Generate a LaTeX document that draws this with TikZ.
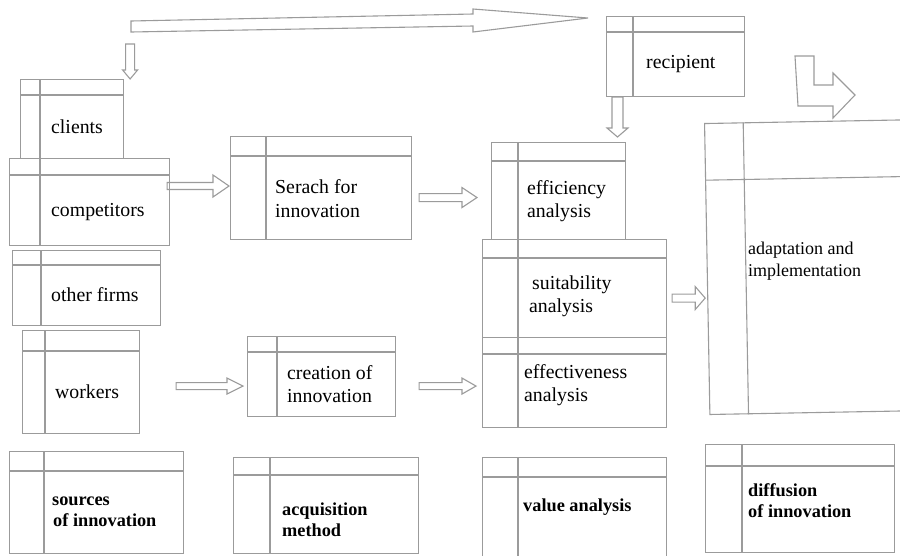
\documentclass[tikz,border=0pt]{standalone}
\usepackage{fontspec}
\setmainfont{Liberation Serif}
\usetikzlibrary{calc}
\definecolor{framegray}{HTML}{9B9B9B}
\tikzset{
  tbl/.style = {draw=framegray, line width=1.1pt, rectangle, anchor=north west, inner sep=0pt},
  rule/.style = {draw=framegray, line width=1.1pt},
  arr/.style = {draw=framegray, line width=1.1pt},
  txt/.style = {anchor=west, align=left, inner sep=0pt, font=\fontsize{19.8}{23.5}\selectfont},
  txts/.style = {txt, font=\fontsize{18}{22}\selectfont},
  txtb/.style = {txt, font=\fontsize{18.3}{21}\selectfont\bfseries}
}
% box with header row and left column
\newcommand{\tblbox}[7]{% name, x, y, width, height, header, column
  \node[tbl, minimum width=#4pt, minimum height=#5pt] (#1) at (#2,#3) {};
  \draw[rule] ([yshift=-#6pt]#1.north west) -- ([yshift=-#6pt]#1.north east);
  \draw[rule] ([xshift=#7pt]#1.north west) -- ([xshift=#7pt]#1.south west);}
% hollow block arrows
\newcommand{\rarrow}[5]{% from, tip, shaft half, head half, head length
  \draw[arr] let \p1 = #1, \p2 = #2 in
    (\x1,{\y1+#3}) -- ({\x2-#5},{\y1+#3}) -- ({\x2-#5},{\y1+#4}) -- (\x2,\y1)
    -- ({\x2-#5},{\y1-#4}) -- ({\x2-#5},{\y1-#3}) -- (\x1,{\y1-#3}) -- cycle;}
\newcommand{\darrow}[5]{%
  \draw[arr] let \p1 = #1, \p2 = #2 in
    ({\x1-#3},\y1) -- ({\x1-#3},{\y2+#5}) -- ({\x1-#4},{\y2+#5}) -- (\x1,\y2)
    -- ({\x1+#4},{\y2+#5}) -- ({\x1+#3},{\y2+#5}) -- ({\x1+#3},\y1) -- cycle;}
\begin{document}
\begin{tikzpicture}[x=1pt,y=-1pt]
\useasboundingbox (0,0) rectangle (900,555);
\clip (0,0) rectangle (900,555);

% sources
\tblbox{clients}{20}{79}{103}{79}{16}{20}
\tblbox{comp}{9}{158}{160}{87}{17}{31}
\tblbox{firms}{12}{250}{148}{75}{15}{29}
\tblbox{workers}{22}{330}{117}{103}{21}{23}
% acquisition
\tblbox{search}{230}{136}{181}{103}{20}{36}
\tblbox{creation}{247}{336}{148}{80}{16}{30}
% value analysis
\tblbox{recipient}{606}{16}{138}{80}{16}{27}
\tblbox{effic}{491}{142}{134}{97}{19}{27}
\tblbox{suit}{482}{239}{184}{98}{19}{36}
\tblbox{effect}{482}{337}{184}{90}{17}{36}
% legend row
\tblbox{sources}{9}{451}{174}{102}{20}{35}
\tblbox{acq}{233}{457}{185}{96}{18}{37}
\tblbox{value}{482}{457}{184}{102}{20}{36}
\tblbox{diff}{705}{444}{189}{108}{22}{37}

% diffusion, slightly tilted
\node[tbl, rotate=1.05, minimum width=230pt, minimum height=291pt] (adapt) at (704,123) {};
\draw[rule] ($(adapt.north west)!57/291!(adapt.south west)$) -- ($(adapt.north east)!57/291!(adapt.south east)$);
\draw[rule] ($(adapt.north west)!39/230!(adapt.north east)$) -- ($(adapt.south west)!39/230!(adapt.south east)$);
\coordinate (adapt-w) at ($(adapt.north west)!174/291!(adapt.south west)$);

% texts
\node[txt] (clients-t) at (51,126.5) {clients};
\node[txt] (comp-t) at (51,212) {competitors};
\node[txt] (firms-t) at (51,295) {other firms};
\node[txt] (workers-t) at (55,391.5) {workers};
\node[txt] (search-t) at (275,198.5) {Serach for\\innovation};
\node[txt] (creation-t) at (287,384) {creation of\\innovation};
\node[txt] (recipient-t) at (646,64.5) {recipient};
\node[txt] (effic-t) at (527,201) {efficiency\\analysis};
\node[txt] (suit-t) at (529,296.5) {\hspace{3pt}suitability\\analysis};
\node[txt] (effect-t) at (524,385) {effectiveness\\analysis};
\node[txts] (adapt-t) at (748,261.5) {adaptation and\\implementation};
\node[txtb] (sources-t) at (52,511.5) {sources\\\hspace{1pt}of innovation};
\node[txtb] (acq-t) at (282,519.5) {acquisition\\method};
\node[txtb] (value-t) at (523,507) {value analysis};
\node[txtb] (diff-t) at (748,500.5) {diffusion\\of innovation};

% arrows
\draw[arr] (131,21) -- (473,14) -- (473,9) -- (588,18) -- (473,32) -- (473,26) -- (131,32) -- cycle;
\draw[arr] (795,56) -- (814,56) -- (814,85) -- (833,85) -- (833,73) -- (855,95)
  -- (833,118) -- (833,106) -- (798,106) -- cycle;
\darrow{($(clients.north east)+(6,-35)$)}{(clients.north)}{4.5pt}{7.5pt}{9pt}
\darrow{($(recipient.south west)+(11.5,0)$)}{([yshift=5pt]effic.north)}{5.5pt}{10.5pt}{9pt}
\rarrow{($(comp.north east)+(-3,28)$)}{([xshift=-1pt]search.west)}{3.5pt}{11pt}{16pt}
\rarrow{($(search.east)+(7,9.5)$)}{([xshift=-14pt]effic.west)}{4pt}{10pt}{15pt}
\rarrow{($(workers.east)+(36,4)$)}{([xshift=-4pt]creation.west)}{3.5pt}{8pt}{16pt}
\rarrow{($(creation.east)+(23,9.5)$)}{([xshift=-6pt]effect.west)}{3.5pt}{8pt}{14pt}
\rarrow{($(suit.east)+(5,9.5)$)}{([xshift=-2pt]adapt-w)}{4pt}{11.5pt}{10pt}
\end{tikzpicture}
\end{document}
